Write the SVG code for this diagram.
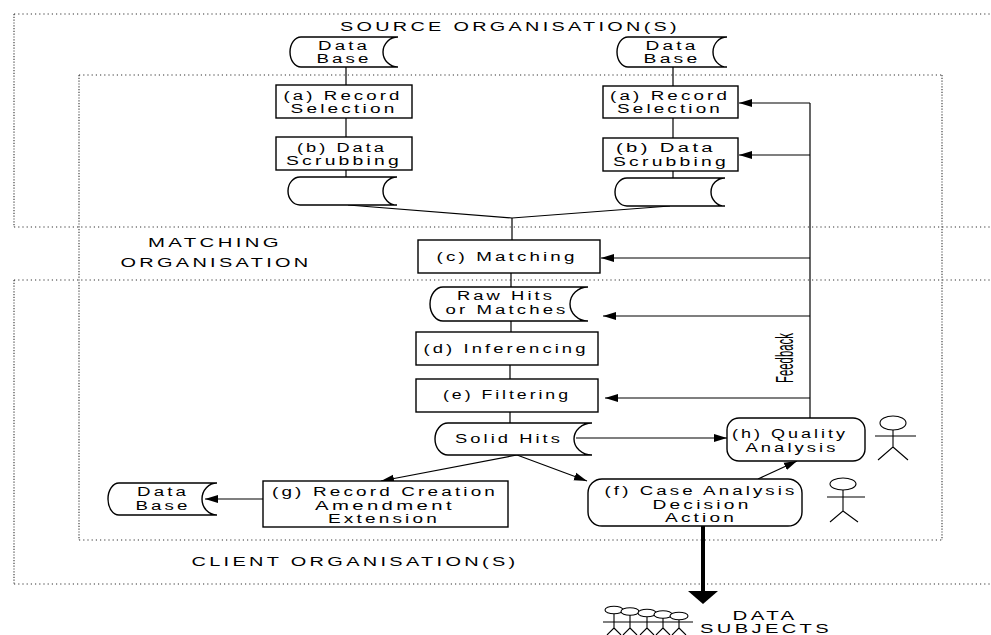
<svg xmlns="http://www.w3.org/2000/svg" width="991" height="635" viewBox="0 0 991 635">
<style>
.t{font-family:"Liberation Sans",Arial,sans-serif;font-size:12px;letter-spacing:2px;fill:#000;text-anchor:middle}
.sh{fill:#fff;stroke:#000;stroke-width:1.4}
.ln{fill:none;stroke:#000;stroke-width:1.2}
.ar{fill:none;stroke:#000;stroke-width:1.2;marker-end:url(#ah)}
.dh{fill:none;stroke:#333;stroke-width:1.1;stroke-dasharray:1.2 3}
.dv{fill:none;stroke:#333;stroke-width:1.1;stroke-dasharray:1.2 1.6}
.act{fill:none;stroke:#000;stroke-width:1.1}
</style>
<defs>
<marker id="ah" markerWidth="14" markerHeight="10" refX="13" refY="5" orient="auto" markerUnits="userSpaceOnUse">
<path d="M0,1 L13,5 L0,9 Z" fill="#000"/>
</marker>
</defs>
<rect width="991" height="635" fill="#fff"/>

<g id="frames">
<line class="dh" x1="14" y1="14" x2="991" y2="14"/>
<line class="dv" x1="14" y1="14" x2="14" y2="227"/>
<line class="dh" x1="14" y1="227" x2="991" y2="227"/>
<line class="dh" x1="14" y1="280" x2="991" y2="280"/>
<line class="dv" x1="14" y1="280" x2="14" y2="584"/>
<line class="dh" x1="14" y1="584" x2="991" y2="584"/>
<line class="dh" x1="79" y1="75" x2="942" y2="75"/>
<line class="dv" x1="79" y1="75" x2="79" y2="540"/>
<line class="dv" x1="942" y1="75" x2="942" y2="540"/>
<line class="dh" x1="79" y1="540" x2="942" y2="540"/>
<text class="t" x="510" y="31" textLength="340" lengthAdjust="spacingAndGlyphs">SOURCE ORGANISATION(S)</text>
<text class="t" x="215" y="247" textLength="134" lengthAdjust="spacingAndGlyphs">MATCHING</text>
<text class="t" x="216" y="267" textLength="191" lengthAdjust="spacingAndGlyphs">ORGANISATION</text>
<text class="t" x="355" y="566" textLength="327" lengthAdjust="spacingAndGlyphs">CLIENT ORGANISATION(S)</text>
</g>

<g id="connectors">
<line class="ln" x1="346" y1="67" x2="346" y2="85"/>
<line class="ln" x1="346" y1="118" x2="346" y2="137"/>
<line class="ln" x1="346" y1="170" x2="346" y2="177"/>
<line class="ln" x1="673" y1="67" x2="673" y2="87"/>
<line class="ln" x1="673" y1="118" x2="673" y2="138"/>
<line class="ln" x1="673" y1="171" x2="673" y2="178"/>
<polyline class="ln" points="348,205 512,218 670,206"/>
<line class="ln" x1="512" y1="218" x2="512" y2="240"/>
<line class="ln" x1="511" y1="273" x2="511" y2="287"/>
<line class="ln" x1="511" y1="321" x2="511" y2="332"/>
<line class="ln" x1="510" y1="365" x2="510" y2="379"/>
<line class="ln" x1="510" y1="412" x2="510" y2="423"/>
<line class="ln" x1="810" y1="103" x2="810" y2="418"/>
<line class="ar" x1="810" y1="103" x2="739" y2="103"/>
<line class="ar" x1="810" y1="155" x2="739" y2="155"/>
<line class="ar" x1="810" y1="258" x2="601" y2="258"/>
<line class="ar" x1="810" y1="316" x2="603" y2="316"/>
<line class="ar" x1="810" y1="398" x2="605" y2="398"/>
<line class="ar" x1="576" y1="438" x2="727" y2="438"/>
<line class="ar" x1="517" y1="455" x2="381" y2="481"/>
<line class="ar" x1="517" y1="455" x2="587" y2="481"/>
<line class="ar" x1="758" y1="479" x2="797" y2="461"/>
<line class="ar" x1="263" y1="499" x2="205" y2="499"/>
<line x1="703" y1="526" x2="703" y2="593" stroke="#000" stroke-width="4"/>
<polygon points="688,591 718,591 703,604" fill="#000"/>
<text transform="translate(793,358) rotate(-90)" style="font-family:'Liberation Sans',Arial,sans-serif;font-size:23px;text-anchor:middle" textLength="50" lengthAdjust="spacingAndGlyphs">Feedback</text>
</g>

<g id="db-left">
<path class="sh" d="M301,37 H398 A15,15 0 0 0 398,67 H301 A11,15 0 0 1 301,37 Z"/>
<text class="t" x="344" y="50" textLength="52" lengthAdjust="spacingAndGlyphs">Data</text>
<text class="t" x="344" y="63" textLength="55" lengthAdjust="spacingAndGlyphs">Base</text>
</g>
<g id="a-left">
<rect class="sh" x="276" y="85" width="136" height="33"/>
<text class="t" x="343" y="99.5" textLength="119" lengthAdjust="spacingAndGlyphs">(a) Record</text>
<text class="t" x="344" y="113" textLength="107" lengthAdjust="spacingAndGlyphs">Selection</text>
</g>
<g id="b-left">
<rect class="sh" x="276" y="137" width="136" height="33"/>
<text class="t" x="342" y="151.5" textLength="90" lengthAdjust="spacingAndGlyphs">(b) Data</text>
<text class="t" x="344" y="165" textLength="116" lengthAdjust="spacingAndGlyphs">Scrubbing</text>
</g>
<g id="store-left">
<path class="sh" d="M300,177 H397 A14,14 0 0 0 397,205 H300 A12,14 0 0 1 300,177 Z"/>
</g>

<g id="db-right">
<path class="sh" d="M628,37 H727 A14,15 0 0 0 727,67 H628 A11,15 0 0 1 628,37 Z"/>
<text class="t" x="672" y="50" textLength="53" lengthAdjust="spacingAndGlyphs">Data</text>
<text class="t" x="672" y="63" textLength="57" lengthAdjust="spacingAndGlyphs">Base</text>
</g>
<g id="a-right">
<rect class="sh" x="603" y="86" width="135" height="32"/>
<text class="t" x="670" y="99.5" textLength="120" lengthAdjust="spacingAndGlyphs">(a) Record</text>
<text class="t" x="670" y="113" textLength="106" lengthAdjust="spacingAndGlyphs">Selection</text>
</g>
<g id="b-right">
<rect class="sh" x="603" y="138" width="135" height="33"/>
<text class="t" x="666" y="152" textLength="100" lengthAdjust="spacingAndGlyphs">(b) Data</text>
<text class="t" x="671" y="165.5" textLength="116" lengthAdjust="spacingAndGlyphs">Scrubbing</text>
</g>
<g id="store-right">
<path class="sh" d="M627,178 H725 A14,14 0 0 0 725,206 H627 A12,14 0 0 1 627,178 Z"/>
</g>

<g id="c-matching">
<rect class="sh" x="418" y="240" width="182" height="33"/>
<text class="t" x="507" y="261" textLength="141" lengthAdjust="spacingAndGlyphs">(c) Matching</text>
</g>
<g id="raw-hits">
<path class="sh" d="M443,287 H588 A18,17 0 0 0 588,321 H443 A13,17 0 0 1 443,287 Z"/>
<text class="t" x="506" y="300" textLength="98" lengthAdjust="spacingAndGlyphs">Raw Hits</text>
<text class="t" x="507" y="313.5" textLength="123" lengthAdjust="spacingAndGlyphs">or Matches</text>
</g>
<g id="d-inferencing">
<rect class="sh" x="416" y="332" width="182" height="33"/>
<text class="t" x="506" y="353" textLength="165" lengthAdjust="spacingAndGlyphs">(d) Inferencing</text>
</g>
<g id="e-filtering">
<rect class="sh" x="416" y="379" width="182" height="33"/>
<text class="t" x="507" y="399" textLength="128" lengthAdjust="spacingAndGlyphs">(e) Filtering</text>
</g>
<g id="solid-hits">
<path class="sh" d="M448,423 H592 A18,16 0 0 0 592,455 H448 A13,16 0 0 1 448,423 Z"/>
<text class="t" x="509" y="443" textLength="108" lengthAdjust="spacingAndGlyphs">Solid Hits</text>
</g>

<g id="h-quality">
<rect class="sh" x="727" y="418" width="138" height="43" rx="12" ry="12"/>
<text class="t" x="790" y="438" textLength="116" lengthAdjust="spacingAndGlyphs">(h) Quality</text>
<text class="t" x="792" y="452" textLength="93" lengthAdjust="spacingAndGlyphs">Analysis</text>
</g>
<g id="actor-h">
<ellipse class="act" cx="893" cy="423" rx="13" ry="7"/>
<path class="act" d="M875,436 H916 M893,430 V447 L878,460 M893,447 L908,460"/>
</g>

<g id="f-case">
<rect class="sh" x="588" y="479" width="214" height="47" rx="14" ry="14"/>
<text class="t" x="701" y="495" textLength="193" lengthAdjust="spacingAndGlyphs">(f) Case Analysis</text>
<text class="t" x="702" y="508.5" textLength="99" lengthAdjust="spacingAndGlyphs">Decision</text>
<text class="t" x="701" y="522" textLength="72" lengthAdjust="spacingAndGlyphs">Action</text>
</g>
<g id="actor-f">
<ellipse class="act" cx="843" cy="484" rx="13" ry="6"/>
<path class="act" d="M827,497 H865 M843,490 V511 L830,522 M843,511 L858,522"/>
</g>

<g id="g-record">
<rect class="sh" x="263" y="481" width="245" height="46"/>
<text class="t" x="385" y="496" textLength="226" lengthAdjust="spacingAndGlyphs">(g) Record Creation</text>
<text class="t" x="385" y="509.5" textLength="140" lengthAdjust="spacingAndGlyphs">Amendment</text>
<text class="t" x="384" y="523" textLength="112" lengthAdjust="spacingAndGlyphs">Extension</text>
</g>
<g id="db-bottom">
<path class="sh" d="M119,483 H217 A15,16 0 0 0 217,515 H119 A11,16 0 0 1 119,483 Z"/>
<text class="t" x="163" y="496" textLength="52" lengthAdjust="spacingAndGlyphs">Data</text>
<text class="t" x="163" y="509.5" textLength="55" lengthAdjust="spacingAndGlyphs">Base</text>
</g>

<g id="data-subjects">
<g class="act">
<ellipse cx="614" cy="610" rx="9" ry="3.8" fill="#fff"/>
<ellipse cx="630" cy="611.5" rx="9" ry="3.8" fill="#fff"/>
<ellipse cx="647" cy="613" rx="9" ry="3.8" fill="#fff"/>
<ellipse cx="663" cy="614.5" rx="9" ry="3.8" fill="#fff"/>
<ellipse cx="679" cy="616" rx="9" ry="3.8" fill="#fff"/>
<path d="M603,622 H693 M614,614 V628 L607,635 M614,628 L621,635 M630,615 V628 L623,635 M630,628 L637,635 M647,617 V628 L640,635 M647,628 L654,635 M663,618 V628 L656,635 M663,628 L670,635 M679,620 V628 L672,635 M679,628 L686,635"/>
</g>
<text class="t" x="765" y="620" textLength="65" lengthAdjust="spacingAndGlyphs">DATA</text>
<text class="t" x="766" y="633" textLength="132" lengthAdjust="spacingAndGlyphs">SUBJECTS</text>
</g>
</svg>
